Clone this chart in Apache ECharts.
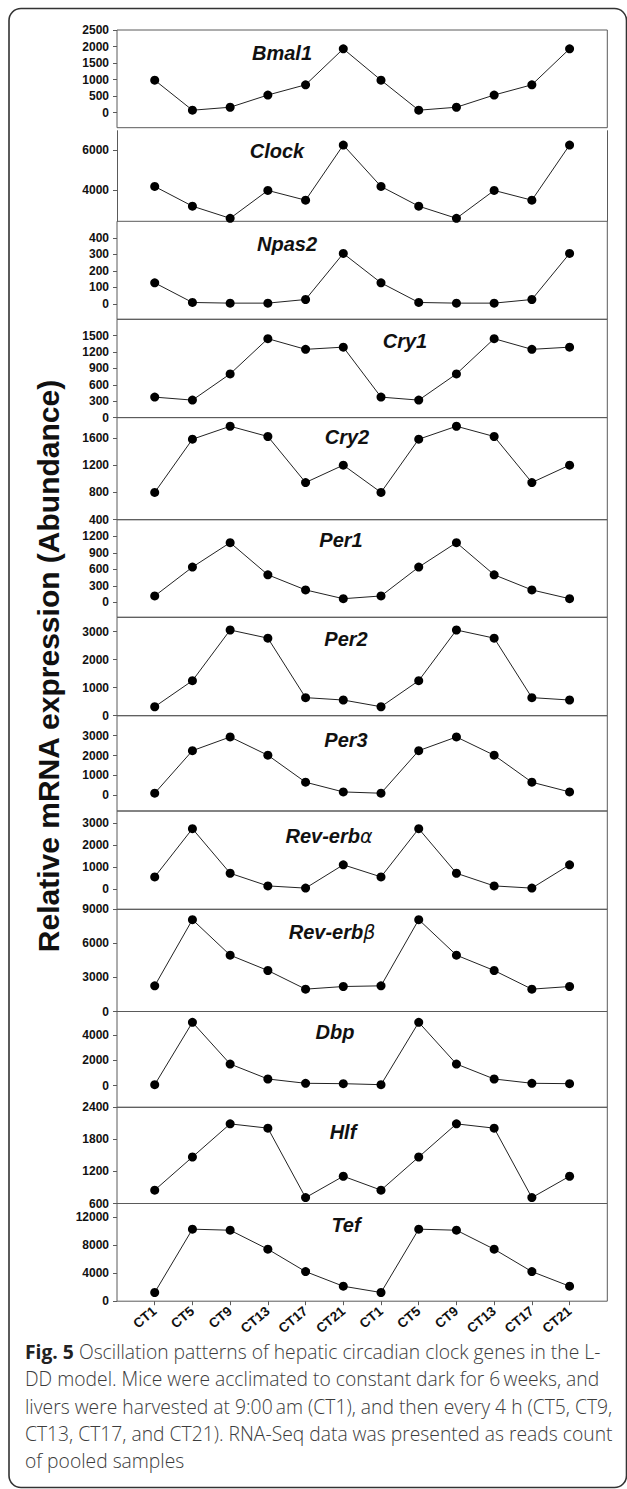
<!DOCTYPE html>
<html>
<head>
<meta charset="utf-8">
<script src="https://cdn.jsdelivr.net/npm/echarts@6/dist/echarts.min.js"></script>
<style>
  html, body { margin: 0; padding: 0; background: #fff; }
  #chart { position: absolute; left: 0; top: 0; width: 627px; height: 1489px; }
  #caption { position: absolute; left: 25px; top: 1338px; font-family: "Open Sans", Lato, sans-serif;
             font-weight: 300; font-size: 19.3px; line-height: 27.3px; color: #3c3c3c; white-space: nowrap; }
  #caption b { font-weight: 700; color: #222; }
</style>
</head>
<body>
<div id="chart"></div>
<div id="caption">
  <div><b>Fig. 5</b> Oscillation patterns of hepatic circadian clock genes in the L-</div>
  <div>DD model. Mice were acclimated to constant dark for 6&#8201;weeks, and</div>
  <div>livers were harvested at 9:00&#8201;am (CT1), and then every 4 h (CT5, CT9,</div>
  <div>CT13, CT17, and CT21). RNA-Seq data was presented as reads count</div>
  <div>of pooled samples</div>
</div>
<script>
// Sampling times (two consecutive circadian cycles)
const timepoints = ['CT1', 'CT5', 'CT9', 'CT13', 'CT17', 'CT21', 'CT1', 'CT5', 'CT9', 'CT13', 'CT17', 'CT21'];

// Reads count per gene at each time point
const bmal1   = [980, 70, 160, 530, 840, 1930, 980, 70, 160, 530, 840, 1930];
const clock   = [4170, 3180, 2570, 3970, 3480, 6250, 4170, 3180, 2570, 3970, 3480, 6250];
const npas2   = [127, 8, 4, 4, 26, 305, 127, 8, 4, 4, 26, 305];
const cry1    = [375, 320, 800, 1445, 1250, 1290, 375, 320, 800, 1445, 1250, 1290];
const cry2    = [800, 1580, 1770, 1620, 945, 1200, 800, 1580, 1770, 1620, 945, 1200];
const per1    = [115, 640, 1085, 500, 225, 65, 115, 640, 1085, 500, 225, 65];
const per2    = [320, 1250, 3060, 2770, 645, 560, 320, 1250, 3060, 2770, 645, 560];
const per3    = [100, 2245, 2935, 2015, 655, 165, 100, 2245, 2935, 2015, 655, 165];
const revErbA = [550, 2740, 715, 140, 40, 1100, 550, 2740, 715, 140, 40, 1100];
const revErbB = [2260, 8090, 4960, 3610, 1970, 2200, 2260, 8090, 4960, 3610, 1970, 2200];
const dbp     = [80, 5000, 1710, 530, 190, 160, 80, 5000, 1710, 530, 190, 160];
const hlf     = [850, 1470, 2090, 2010, 710, 1110, 850, 1470, 2090, 2010, 710, 1110];
const tef     = [1240, 10290, 10140, 7430, 4230, 2140, 1240, 10290, 10140, 7430, 4230, 2140];

// Y tick labels for each panel
const bmal1Ticks   = [0, 500, 1000, 1500, 2000, 2500];
const clockTicks   = [4000, 6000];
const npas2Ticks   = [0, 100, 200, 300, 400];
const cry1Ticks    = [0, 300, 600, 900, 1200, 1500];
const cry2Ticks    = [400, 800, 1200, 1600];
const per1Ticks    = [0, 300, 600, 900, 1200];
const per2Ticks    = [0, 1000, 2000, 3000];
const per3Ticks    = [0, 1000, 2000, 3000];
const revErbATicks = [0, 1000, 2000, 3000];
const revErbBTicks = [0, 3000, 6000, 9000];
const dbpTicks     = [0, 2000, 4000];
const hlfTicks     = [600, 1200, 1800, 2400];
const tefTicks     = [0, 4000, 8000, 12000];

// Gene names shown inside the panels
const geneNames = ['Bmal1', 'Clock', 'Npas2', 'Cry1', 'Cry2', 'Per1', 'Per2', 'Per3',
                   'Rev-erb{g|α}', 'Rev-erb{g|β}', 'Dbp', 'Hlf', 'Tef'];

const seriesValues = [bmal1, clock, npas2, cry1, cry2, per1, per2, per3, revErbA, revErbB, dbp, hlf, tef];
const tickSets = [bmal1Ticks, clockTicks, npas2Ticks, cry1Ticks, cry2Ticks, per1Ticks, per2Ticks,
                  per3Ticks, revErbATicks, revErbBTicks, dbpTicks, hlfTicks, tefTicks];

// Panel layout: vertical extent, value range, gene label centre
const layout = [
  { top: 30,    bottom: 127.7,  min: -460,  max: 2500,  lx: 282, ly: 53 },
  { top: 130.7, bottom: 221.3,  min: 2420,  max: 6970,  lx: 277, ly: 150.7, open: true },
  { top: 221.3, bottom: 319.3,  min: -94,   max: 500,   lx: 287, ly: 244 },
  { top: 319.3, bottom: 417.6,  min: 0,     max: 1800,  lx: 405, ly: 340.7 },
  { top: 417.6, bottom: 519.7,  min: 400,   max: 1897,  lx: 347, ly: 436.7 },
  { top: 519.7, bottom: 617.3,  min: -273,  max: 1502,  lx: 341, ly: 540 },
  { top: 617.3, bottom: 715.7,  min: 0,     max: 3514,  lx: 346, ly: 639 },
  { top: 715.7, bottom: 811,    min: -796,  max: 4007,  lx: 346, ly: 740 },
  { top: 811,   bottom: 909.3,  min: -923,  max: 3545,  lx: 329, ly: 835.7 },
  { top: 909.3, bottom: 1011.5, min: 0,     max: 9000,  lx: 332, ly: 931.7 },
  { top: 1011.5,bottom: 1107.3, min: -1704, max: 5854,  lx: 335, ly: 1031.7 },
  { top: 1107.3,bottom: 1203.5, min: 600,   max: 2400,  lx: 343, ly: 1131.7 },
  { top: 1203.5,bottom: 1301.2, min: 0,     max: 13957, lx: 346, ly: 1225 }
];

const W = 627, H = 1489;
const plotLeft = 117, plotRight = 607.3;
const frameColor = '#5a5a5a';
const xPositions = timepoints.map((_, i) => i + 1);
const boldSans = 'Liberation Sans, Arial, sans-serif';

const grids = [], xAxes = [], yAxes = [], series = [], graphics = [];

layout.forEach((p, k) => {
  const last = k === layout.length - 1;
  grids.push({
    left: plotLeft, width: plotRight - plotLeft, top: p.top, height: p.bottom - p.top,
    show: !p.open, borderColor: frameColor, borderWidth: 1, backgroundColor: 'transparent'
  });
  xAxes.push({
    type: 'value', gridIndex: k, min: 0, max: 13, position: 'bottom',
    axisLine: { show: false },
    splitLine: { show: false },
    axisTick: { show: last, customValues: xPositions, length: 4, lineStyle: { color: frameColor } },
    axisLabel: {
      show: last, customValues: xPositions, rotate: 40, margin: 8,
      formatter: v => timepoints[Math.round(v) - 1] || '',
      fontFamily: boldSans, fontWeight: 'bold', fontSize: 13.5, color: '#111'
    }
  });
  yAxes.push({
    type: 'value', gridIndex: k, min: p.min, max: p.max,
    axisLine: { show: !!p.open, lineStyle: { color: frameColor, width: 1 } },
    splitLine: { show: false },
    axisTick: { show: true, customValues: tickSets[k], length: 4, lineStyle: { color: frameColor } },
    axisLabel: {
      customValues: tickSets[k], margin: 8, formatter: v => String(v),
      fontFamily: boldSans, fontWeight: 'bold', fontSize: 12, color: '#111'
    }
  });
  if (p.open) {
    // right-hand edge of the open panel
    yAxes.push({
      type: 'value', gridIndex: k, position: 'right', min: p.min, max: p.max,
      axisLine: { show: true, lineStyle: { color: frameColor, width: 1 } },
      axisTick: { show: false }, axisLabel: { show: false }, splitLine: { show: false }
    });
  }
  series.push({
    type: 'line', xAxisIndex: k, yAxisIndex: yAxes.length - (p.open ? 2 : 1),
    data: seriesValues[k].map((v, i) => [xPositions[i], v]),
    symbol: 'circle', symbolSize: 9, showSymbol: true,
    itemStyle: { color: '#000' },
    lineStyle: { color: '#222', width: 1 },
    silent: true, z: 3
  });
  graphics.push({
    type: 'text', x: p.lx, y: p.ly, z: 10,
    style: {
      text: geneNames[k], fill: '#111', align: 'center', verticalAlign: 'middle',
      fontFamily: boldSans, fontWeight: 'bold', fontStyle: 'italic', fontSize: 20,
      rich: { g: { fontFamily: 'DejaVu Sans, sans-serif', fontWeight: 'normal', fontStyle: 'italic', fontSize: 19, fill: '#111' } }
    }
  });
});

// shared y-axis title
graphics.push({
  type: 'text', x: 48, y: 666, rotation: Math.PI / 2, z: 10,
  style: {
    text: 'Relative mRNA expression (Abundance)', fill: '#111',
    align: 'center', verticalAlign: 'middle',
    fontFamily: boldSans, fontWeight: 'bold', fontSize: 30
  }
});

// rounded outer frame of the figure
graphics.push({
  type: 'rect', z: 0,
  shape: { x: 9, y: 8.5, width: 617.5, height: 1479, r: 12 },
  style: { fill: 'none', stroke: '#333', lineWidth: 1.6 }
});

const chart = echarts.init(document.getElementById('chart'), null, { renderer: 'svg', width: W, height: H });
chart.setOption({
  animation: false,
  backgroundColor: '#fff',
  grid: grids,
  xAxis: xAxes,
  yAxis: yAxes,
  series: series,
  graphic: graphics
});
</script>
</body>
</html>
